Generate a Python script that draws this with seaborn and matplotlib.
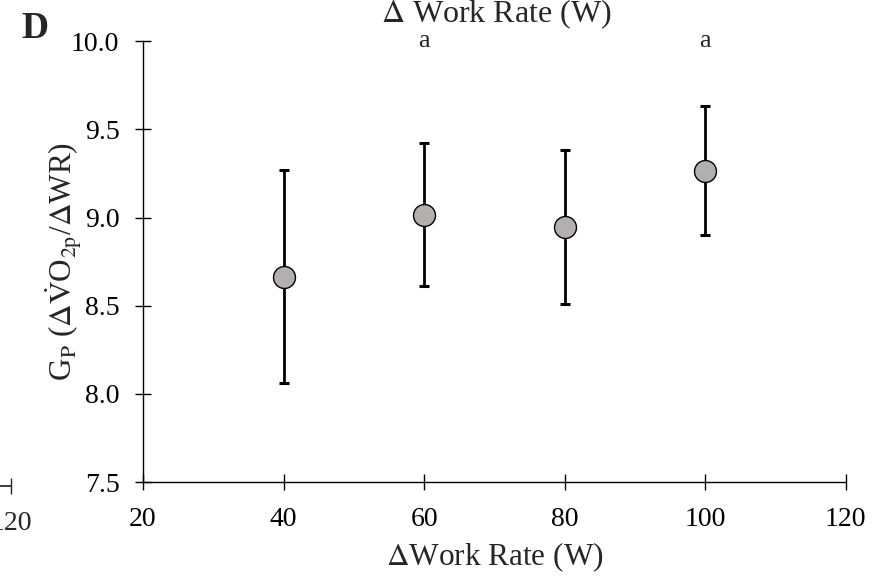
import matplotlib
matplotlib.use('Agg')
import matplotlib.pyplot as plt
import numpy as np
import pandas as pd
import seaborn as sns

# chart data
work_rate = [40, 60, 80, 100]
gain_mean = [8.665, 9.015, 8.948, 9.266]
gain_lower = [8.061, 8.611, 8.512, 8.900]
gain_upper = [9.269, 9.423, 9.382, 9.632]
sig_positions = [60, 100]
sig_label = 'a'
x_ticks = [20, 40, 60, 80, 100, 120]
y_ticks = [7.5, 8.0, 8.5, 9.0, 9.5, 10.0]

df = pd.DataFrame({'wr': work_rate, 'gp': gain_mean,
                   'lo': gain_lower, 'hi': gain_upper})

sns.set_theme(style='ticks')
plt.rcParams['font.family'] = ['Liberation Serif', 'DejaVu Serif']
plt.rcParams['mathtext.fontset'] = 'stix'

fig = plt.figure(figsize=(8.9, 5.79), dpi=100)
ax = fig.add_axes([0.1607, 0.1675, 0.7895, 0.7612])

yerr = np.vstack([df['gp'] - df['lo'], df['hi'] - df['gp']])
ax.errorbar(df['wr'], df['gp'], yerr=yerr, fmt='none', ecolor='black',
            elinewidth=2.0, capsize=3.5, capthick=2.2, zorder=2)
sns.scatterplot(data=df, x='wr', y='gp', ax=ax, s=250, color='#b2afae',
                edgecolor='black', linewidth=1.0, zorder=3, legend=False)

for xp in sig_positions:
    ax.text(xp, 9.97, sig_label, ha='center', va='baseline', fontsize=19,
            clip_on=False)

ax.set_xlim(20, 120)
ax.set_ylim(7.5, 10.0)
ax.set_xticks(x_ticks)
ax.set_yticks(y_ticks)
ax.set_yticklabels([f'{v:.1f}' for v in y_ticks])
ax.tick_params(direction='inout', length=12, width=1.0, labelsize=20,
               color='black', labelcolor='black')
ax.tick_params(axis='x', pad=12)
ax.tick_params(axis='y', pad=11)
for side in ['top', 'right']:
    ax.spines[side].set_visible(False)
for side in ['left', 'bottom']:
    ax.spines[side].set_linewidth(1.0)
    ax.spines[side].set_color('black')

ax.set_xlabel(r'$\Delta$Work Rate (W)', fontsize=22.5, labelpad=6)
ax.set_ylabel(r'G$_\mathrm{P}$ ($\Delta\dot{\mathrm{V}}$O$_\mathrm{2p}$/$\Delta$WR)',
              fontsize=22.5, labelpad=-9)

# neighbouring panel pieces that are cut by the frame
ax_prev = fig.add_axes([(11 - 703) / 890, (579 - 486) / 579, 703 / 890, 0.5])
ax_prev.set_xlim(20, 120)
ax_prev.set_xticks(x_ticks)
ax_prev.set_yticks([])
ax_prev.tick_params(direction='inout', length=12, width=1.0, labelsize=20,
                    pad=12)
for side in ['top', 'right', 'left']:
    ax_prev.spines[side].set_visible(False)
ax_prev.patch.set_alpha(0)

fig.text(0.558, 0.962, r'$\Delta$ Work Rate (W)', ha='center',
         va='baseline', fontsize=23)
fig.text(0.024, 0.935, 'D', fontsize=27, fontweight='bold', ha='left',
         va='baseline')

fig.savefig('out.png', dpi=100)
